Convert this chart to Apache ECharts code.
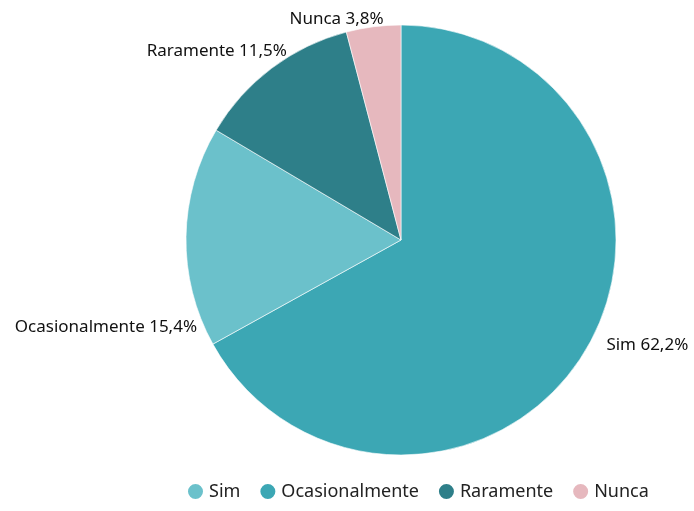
<!DOCTYPE html>
<html>
<head>
<meta charset="utf-8">
<script src="https://cdn.jsdelivr.net/npm/echarts@6/dist/echarts.min.js"></script>
<style>
  html, body { margin: 0; padding: 0; background: #fff; }
  #chart { width: 694px; height: 511px; }
</style>
</head>
<body>
<div id="chart"></div>
<script>
// dados
var categorias = ['Sim', 'Ocasionalmente', 'Raramente', 'Nunca']
var valores = [62.2, 15.4, 11.5, 3.8]
// cores das fatias e da legenda (na original não batem)
var coresFatias = ['#3ca7b4', '#6bc1cb', '#2e7f89', '#e6b8be']
var coresLegenda = ['#6bc1cb', '#3ca7b4', '#2e7f89', '#e6b8be']
// ajuste fino dos rótulos [dx, dy]
var ajusteRotulo = [[6, -7], [26, 91], [28, -12], [20, -2]]

var chart = echarts.init(document.getElementById('chart'))
chart.setOption({
  animation: false,
  textStyle: { fontFamily: 'Noto Sans' },
  legend: {
    bottom: 5,
    left: 181,
    icon: 'circle',
    itemWidth: 17,
    itemHeight: 17,
    itemGap: 18,
    textStyle: { fontSize: 18, color: '#222' },
    data: categorias.map(function (c, i) {
      return { name: c, itemStyle: { color: coresLegenda[i] } }
    })
  },
  series: [{
    type: 'pie',
    center: [401, 240],
    radius: 215,
    startAngle: 90,
    clockwise: true,
    itemStyle: { borderColor: '#fff', borderWidth: 0.6 },
    label: {
      show: true,
      position: 'outside',
      color: '#111',
      fontSize: 17,
      overflow: 'none',
      formatter: function (p) {
        return p.name + ' ' + String(p.value).replace('.', ',') + '%'
      }
    },
    labelLine: { show: false, length: 6, length2: 4 },
    labelLayout: function (p) {
      var a = ajusteRotulo[p.dataIndex]
      return { dx: a[0], dy: a[1] }
    },
    emphasis: { disabled: true },
    data: categorias.map(function (c, i) {
      return { name: c, value: valores[i], itemStyle: { color: coresFatias[i] } }
    })
  }]
})
</script>
</body>
</html>
